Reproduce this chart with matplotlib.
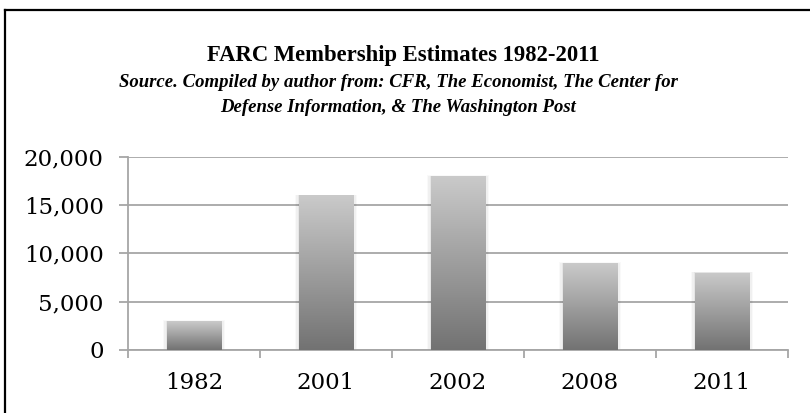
import numpy as np
import matplotlib
matplotlib.use("Agg")
import matplotlib.pyplot as plt
from matplotlib.lines import Line2D
from matplotlib.patches import Rectangle
from matplotlib.ticker import FuncFormatter

years = ["1982", "2001", "2002", "2008", "2011"]
members = [3000, 16000, 18000, 9000, 8000]
y_ticks = [0, 5000, 10000, 15000, 20000]

title = "FARC Membership Estimates 1982-2011"
subtitle_lines = ["Source. Compiled by author from: CFR, The Economist, The Center for",
                  "Defense Information, & The Washington Post"]

W, H = 810, 413
fig = plt.figure(figsize=(W / 100, H / 100), dpi=100)
fig.patch.set_facecolor("white")

# frame around the chart area (top and left edges)
fig.add_artist(Line2D([4.5 / W, 4.5 / W], [0, 1 - 9.5 / H], color="black", lw=1.6,
                      transform=fig.transFigure))
fig.add_artist(Line2D([4.5 / W, 1.0], [1 - 9.5 / H, 1 - 9.5 / H], color="black", lw=1.6,
                      transform=fig.transFigure))

ax = fig.add_axes([128 / W, 1 - 350 / H, 660 / W, (350 - 156.7) / H])

x = np.arange(len(years))
bars = ax.bar(x, members, width=0.41, facecolor="none", edgecolor="none", zorder=3)

# vertical grey gradient inside each bar, plus a faint soft shadow
grad = np.linspace(0, 1, 256).reshape(-1, 1)
cmap = matplotlib.colors.LinearSegmentedColormap.from_list("g", ["#727272", "#cacaca"])
for b in bars:
    x0, w, h = b.get_x(), b.get_width(), b.get_height()
    for k, a in zip([0.06, 0.04, 0.02], [0.025, 0.035, 0.045]):
        ax.add_patch(Rectangle((x0 - k * 0.5, 0), w + k, h + k * 1200, facecolor="black",
                               edgecolor="none", alpha=a, zorder=2))
    im = ax.imshow(grad, extent=(x0, x0 + w, 0, h), origin="lower", cmap=cmap,
                   aspect="auto", zorder=3)
    im.set_clip_path(b)

ax.set_xlim(-0.5, len(years) - 0.5)
ax.set_ylim(0, 20000)
ax.set_yticks(y_ticks)
ax.yaxis.set_major_formatter(FuncFormatter(lambda v, p: f"{int(v):,}"))
ax.set_xticks(x)
ax.set_xticklabels(years)
ax.set_xticks(np.arange(len(years) + 1) - 0.5, minor=True)

ax.grid(axis="y", color="#a6a6a6", lw=1.3, zorder=0)
ax.set_axisbelow(True)
for s in ["top", "right"]:
    ax.spines[s].set_visible(False)
for s in ["left", "bottom"]:
    ax.spines[s].set_color("#a6a6a6")
    ax.spines[s].set_linewidth(1.3)

ax.tick_params(axis="y", length=6.5, width=1.3, color="#a6a6a6", pad=11)
ax.tick_params(axis="x", which="major", length=0, pad=16)
ax.tick_params(axis="x", which="minor", length=6, width=1.3, color="#a6a6a6")
for lab in ax.get_yticklabels() + ax.get_xticklabels():
    lab.set_fontfamily("DejaVu Serif")
    lab.set_fontsize(16.5)
    lab.set_color("black")

fig.text(403 / W, 1 - 60.5 / H, title, ha="center", va="baseline",
         family="Liberation Serif", weight="bold", size=16.3)
for txt, base in zip(subtitle_lines, [87, 111.5]):
    fig.text(398 / W, 1 - base / H, txt, ha="center", va="baseline",
             family="Liberation Serif", weight="bold", style="italic", size=13.5)

fig.savefig("out.png", dpi=100, facecolor="white")
